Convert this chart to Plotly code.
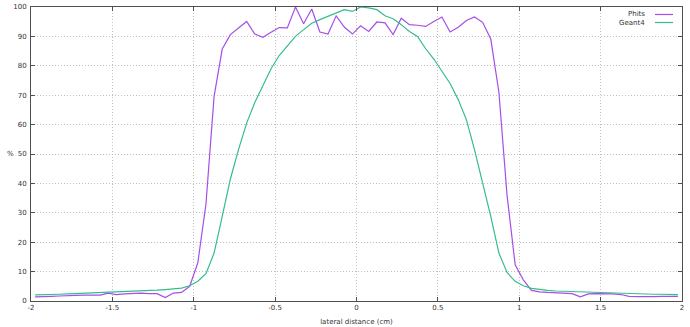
import plotly.graph_objects as go

# bin centres (cm)
lateral_cm = [
    -1.975, -1.925, -1.875, -1.825, -1.775, -1.725, -1.675, -1.625, -1.575, -1.525,
    -1.475, -1.425, -1.375, -1.325, -1.275, -1.225, -1.175, -1.125, -1.075, -1.025,
    -0.975, -0.925, -0.875, -0.825, -0.775, -0.725, -0.675, -0.625, -0.575, -0.525,
    -0.475, -0.425, -0.375, -0.325, -0.275, -0.225, -0.175, -0.125, -0.075, -0.025,
    0.025, 0.075, 0.125, 0.175, 0.225, 0.275, 0.325, 0.375, 0.425, 0.475,
    0.525, 0.575, 0.625, 0.675, 0.725, 0.775, 0.825, 0.875, 0.925, 0.975,
    1.025, 1.075, 1.125, 1.175, 1.225, 1.275, 1.325, 1.375, 1.425, 1.475,
    1.525, 1.575, 1.625, 1.675, 1.725, 1.775, 1.825, 1.875, 1.925, 1.975,
]

phits = [
    1.4, 1.4, 1.6, 1.7, 1.9, 1.9, 2.0, 2.0, 2.0, 2.7,
    2.2, 2.4, 2.5, 2.7, 2.5, 2.5, 1.2, 2.7, 2.9, 5.0,
    13.0, 33.0, 69.6, 85.7, 90.6, 92.8, 95.1, 90.8, 89.7, 91.4,
    93.0, 92.9, 100.0, 94.3, 99.3, 91.5, 90.8, 97.0, 93.2, 90.8,
    93.6, 91.7, 94.9, 94.6, 90.6, 96.2, 94.0, 93.8, 93.4, 95.1,
    96.6, 91.5, 93.1, 95.4, 96.6, 94.8, 89.1, 71.0, 36.0, 12.3,
    7.2, 3.6, 3.1, 2.9, 2.8, 2.7, 2.5, 1.4, 2.4, 2.5,
    2.5, 2.4, 2.2, 1.6, 1.5, 1.4, 1.5, 1.6, 1.6, 1.6,
]

geant4 = [
    2.1, 2.1, 2.2, 2.3, 2.4, 2.5, 2.6, 2.7, 2.8, 2.9,
    3.0, 3.1, 3.2, 3.4, 3.5, 3.7, 3.9, 4.1, 4.4, 5.2,
    6.7, 9.3, 16.3, 28.8, 41.5, 51.5, 60.5, 67.5, 73.5, 79.0,
    83.5, 86.8, 90.0, 92.3, 94.5, 95.7, 96.8, 98.0, 99.1, 98.5,
    100.0, 99.7, 99.1, 97.0, 96.0, 94.0, 91.7, 90.0, 85.8, 82.3,
    78.0, 74.0, 68.5, 61.7, 51.5, 40.3, 28.8, 16.3, 9.7, 6.7,
    5.2, 4.3, 3.9, 3.6, 3.4, 3.3, 3.1, 3.0, 2.9, 2.8,
    2.7, 2.6, 2.5, 2.5, 2.4, 2.4, 2.3, 2.3, 2.2, 2.2,
]

x_ticks = [-2, -1.5, -1, -0.5, 0, 0.5, 1, 1.5, 2]
x_tick_text = ["-2", "-1.5", "-1", "-0.5", "0", "0.5", "1", "1.5", "2"]
y_ticks = [0, 10, 20, 30, 40, 50, 60, 70, 80, 90, 100]

series_names = ["Phits", "Geant4"]
series_colors = ["#a64ee6", "#35bd8c"]

FONT = "DejaVu Sans"
fig = go.Figure()
for name, vals, col in zip(series_names, [phits, geant4], series_colors):
    fig.add_trace(go.Scatter(x=lateral_cm, y=vals, mode="lines", name=name,
                             line=dict(color=col, width=1.2), showlegend=False))

axis_common = dict(showline=True, linecolor="#505050", linewidth=1, mirror="allticks",
                   ticks="inside", ticklen=4, tickcolor="#505050", automargin=False,
                   showgrid=True, gridcolor="#c0c0c0", griddash="1px,2px", gridwidth=1,
                   zeroline=False, tickfont=dict(family=FONT, size=7, color="#333"))

fig.update_layout(
    width=690, height=327,
    margin=dict(l=31, r=8, t=7, b=26),
    paper_bgcolor="white", plot_bgcolor="white",
    xaxis=dict(range=[-2, 2], tickvals=x_ticks, ticktext=x_tick_text,
               title=dict(text="lateral distance (cm)", standoff=7,
                          font=dict(family=FONT, size=7, color="#333")),
               **axis_common),
    yaxis=dict(range=[0, 100], tickvals=y_ticks, ticklabelstandoff=2,
               **axis_common),
)

# y-axis label
fig.add_annotation(xref="paper", yref="paper", x=-0.032, y=0.5, text="%", showarrow=False,
                   xanchor="center", yanchor="middle",
                   font=dict(family=FONT, size=7, color="#333"))

# gnuplot-style key: text then sample line, top-right inside
for i, (name, col) in enumerate(zip(series_names, series_colors)):
    ypix = 14.5 + 8 * i
    yp = 1 - (ypix - 7) / 294
    fig.add_annotation(xref="paper", yref="paper", x=(647 - 31) / 651, y=yp, text=name,
                       showarrow=False, xanchor="right", yanchor="middle",
                       font=dict(family=FONT, size=7, color="#333"))
    fig.add_shape(type="line", xref="paper", yref="paper",
                  x0=(655 - 31) / 651, x1=(673 - 31) / 651, y0=yp, y1=yp,
                  line=dict(color=col, width=1.2))

fig.write_html("out.html")
